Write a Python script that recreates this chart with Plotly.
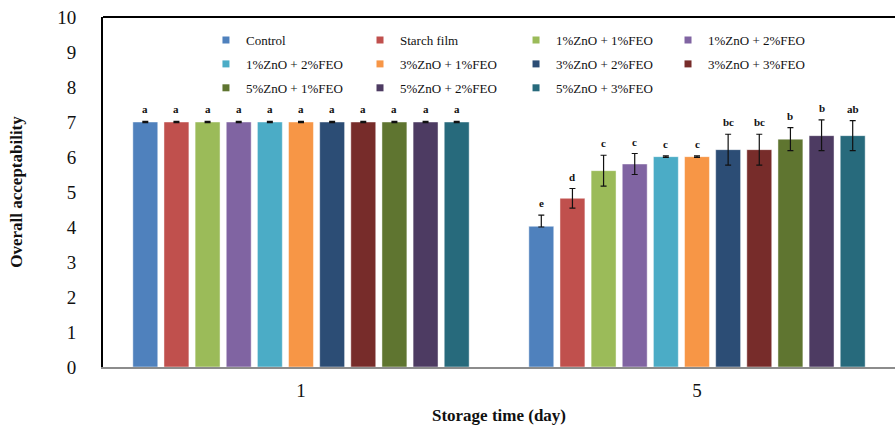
import plotly.graph_objects as go

days = ["1", "5"]
series_names = [
    "Control", "Starch film", "1%ZnO + 1%FEO", "1%ZnO + 2%FEO",
    "1%ZnO + 2%FEO", "3%ZnO + 1%FEO", "3%ZnO + 2%FEO", "3%ZnO + 3%FEO",
    "5%ZnO + 1%FEO", "5%ZnO + 2%FEO", "5%ZnO + 3%FEO",
]
colors = [
    "#4F81BD", "#C0504D", "#9BBB59", "#8064A2", "#4BACC6", "#F79646",
    "#2C4D75", "#772C2A", "#5F7530", "#4D3B62", "#276A7C",
]
day1_values = [7.0] * 11
day5_values = [4.02, 4.82, 5.61, 5.80, 6.01, 6.01, 6.21, 6.21, 6.51, 6.61, 6.61]
day1_err = [0.02] * 11
day5_err_plus = [0.32, 0.28, 0.44, 0.30, 0.02, 0.02, 0.44, 0.44, 0.33, 0.45, 0.43]
day5_err_minus = [0.02, 0.28, 0.44, 0.30, 0.02, 0.02, 0.44, 0.44, 0.33, 0.43, 0.43]
day1_letters = ["a"] * 11
day5_letters = ["e", "d", "c", "c", "c", "c", "bc", "bc", "b", "b", "ab"]

FONT = "Liberation Serif"
W, H = 896, 428
margin = dict(l=103, r=1, t=17, b=61)
bargap = 0.135
bargroupgap = 0.2

fig = go.Figure()
n = len(series_names)
for i in range(n):
    fig.add_trace(go.Bar(
        x=days,
        y=[day1_values[i], day5_values[i]],
        marker=dict(color=colors[i], line=dict(color="rgba(255,255,255,0.45)", width=1)),
        error_y=dict(type="data", symmetric=False,
                     array=[day1_err[i], day5_err_plus[i]],
                     arrayminus=[day1_err[i], day5_err_minus[i]],
                     color="#111111", thickness=1.2, width=3),
        name=series_names[i], showlegend=False,
    ))

# legend: 4 columns x 3 rows, one vertical legend per column
legend_keys = ["legend", "legend2", "legend3", "legend4"]
for i in range(n):
    fig.add_trace(go.Scatter(
        x=[days[0]], y=[None], mode="markers",
        marker=dict(symbol="square", size=7, color=colors[i]),
        name=series_names[i], legend=legend_keys[i % 4],
        legendgroup=f"g{i}", showlegend=True, hoverinfo="skip",
    ))

# significance letters
plot_w = W - margin["l"] - margin["r"]
cat_w = plot_w / len(days)
slot = cat_w * (1 - bargap) / n
for i in range(n):
    shift = (i - (n - 1) / 2) * slot
    for d, (v, e, lt) in enumerate([
        (day1_values[i], day1_err[i], day1_letters[i]),
        (day5_values[i], day5_err_plus[i], day5_letters[i]),
    ]):
        fig.add_annotation(
            x=d, y=v + e, xshift=shift, yshift=4,
            text=f"<b>{lt}</b>", showarrow=False, yanchor="bottom",
            font=dict(family=FONT, size=11, color="#111111"),
        )

legend_common = dict(
    orientation="v", xanchor="left", yanchor="top", y=0.977,
    font=dict(family=FONT, size=13, color="#111111"),
    bgcolor="rgba(0,0,0,0)", traceorder="grouped", tracegroupgap=4,
)
col_x = [0.130, 0.3245, 0.5215, 0.7134]
fig.update_layout(
    width=W, height=H, margin=margin,
    paper_bgcolor="white", plot_bgcolor="white",
    barmode="group", bargap=bargap, bargroupgap=bargroupgap,
    font=dict(family=FONT, color="#111111"),
    legend=dict(x=col_x[0], **legend_common),
    legend2=dict(x=col_x[1], **legend_common),
    legend3=dict(x=col_x[2], **legend_common),
    legend4=dict(x=col_x[3], **legend_common),
    xaxis=dict(
        type="category",
        showline=True, linecolor="#8c8c8c", linewidth=2,
        ticks="", tickfont=dict(family=FONT, size=19), ticklabelstandoff=5,
        title=dict(text="<b>Storage time (day)</b>", font=dict(family=FONT, size=17), standoff=9),
        showgrid=False,
    ),
    yaxis=dict(
        range=[0, 10], dtick=1, showline=True, linecolor="black", linewidth=2,
        ticks="", showgrid=False, zeroline=False,
        tickfont=dict(family=FONT, size=19), ticklabelstandoff=21,
        title=dict(text="<b>Overall acceptability</b>", font=dict(family=FONT, size=17), standoff=30),
    ),
    shapes=[dict(type="line", xref="paper", yref="paper", x0=0, x1=1, y0=1, y1=1,
                 line=dict(color="black", width=2))],
)
fig.write_html("out.html")
